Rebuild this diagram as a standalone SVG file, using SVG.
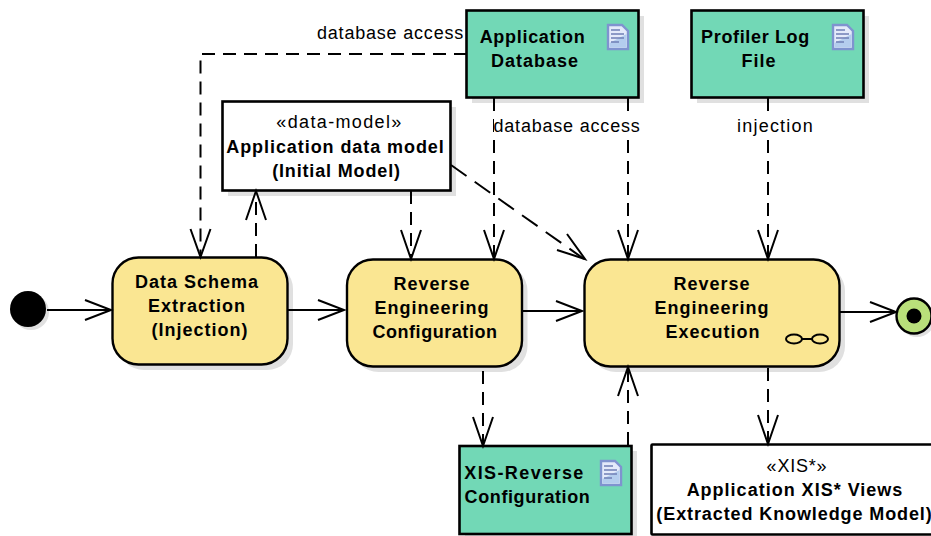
<svg xmlns="http://www.w3.org/2000/svg" width="931" height="536" viewBox="0 0 931 536">
<style>
text{font-family:"Liberation Sans",Arial,sans-serif;font-size:18px;fill:#000;text-anchor:middle}
.b{font-weight:bold;letter-spacing:1px}
.n{letter-spacing:.8px}
.s{fill:#e0e0e0}
.act{fill:#fae692;stroke:#000;stroke-width:2.4}
.art{fill:#72d8b6;stroke:#000;stroke-width:2.6}
.cls{fill:#fff;stroke:#000;stroke-width:2.6}
.c{fill:none;stroke:#000;stroke-width:2}
.d{stroke-dasharray:13 8}
.h{fill:none;stroke:#000;stroke-width:2}
.doc{fill:#e4eafa;stroke:#7f93cf;stroke-width:2.4}
.docl{fill:none;stroke:#6f7fb5;stroke-width:1.5}
</style>
<defs>
<g id="docicon">
<path class="doc" d="M1 1H15L21 7V25H1Z"/>
<path d="M2.500 19L19.500 10V23.500H2.500Z" fill="#b4cdee"/>
<path class="docl" d="M4 6H13M4 10H17M4 14H17M4 18H12"/>
</g>
</defs>
<g id="start"><circle cx="31" cy="312" r="18" class="s"/><circle cx="28" cy="309" r="18"/></g>
<g id="end"><circle cx="917" cy="319" r="18" class="s"/><circle cx="914" cy="316" r="17.500" fill="#b9e07a" stroke="#000" stroke-width="2.4"/><circle cx="914" cy="316" r="7.500"/></g>
<g id="app-db"><rect x="472" y="16" width="172" height="87" class="s"/><rect x="466.500" y="10.500" width="172" height="87" class="art"/>
<text class="b" x="532.500" y="43" style="letter-spacing:.7px">Application</text><text class="b" x="535" y="67">Database</text><use href="#docicon" x="607" y="24"/></g>
<g id="profiler"><rect x="697" y="16" width="172" height="87" class="s"/><rect x="691.500" y="10.500" width="172" height="87" class="art"/>
<text class="b" x="755.500" y="43" style="letter-spacing:.65px">Profiler Log</text><text class="b" x="759" y="67">File</text><use href="#docicon" x="832" y="24"/></g>
<g id="data-model"><rect x="228" y="107" width="228" height="89" class="s"/><rect x="222.500" y="101.500" width="228" height="89" class="cls"/>
<text x="339.500" y="128" style="letter-spacing:1.35px">«data-model»</text><text class="b" x="335.500" y="153" style="letter-spacing:.93px">Application data model</text><text class="b" x="336.500" y="177" style="letter-spacing:.85px">(Initial Model)</text></g>
<g id="extract"><rect x="118" y="263" width="175" height="107" rx="26" class="s"/><rect x="112.500" y="257.500" width="175" height="107" rx="26" class="act"/>
<text class="b" x="197" y="288">Data Schema</text><text class="b" x="197" y="312">Extraction</text><text class="b" x="200" y="336">(Injection)</text></g>
<g id="config"><rect x="352.500" y="265" width="175" height="107" rx="26" class="s"/><rect x="347" y="259.500" width="175" height="107" rx="26" class="act"/>
<text class="b" x="432" y="290">Reverse</text><text class="b" x="432" y="314">Engineering</text><text class="b" x="435" y="338" style="letter-spacing:.55px">Configuration</text></g>
<g id="exec"><rect x="590" y="265" width="255" height="107" rx="26" class="s"/><rect x="584.500" y="259.500" width="255" height="107" rx="26" class="act"/>
<text class="b" x="712" y="290">Reverse</text><text class="b" x="712" y="314">Engineering</text><text class="b" x="713" y="338">Execution</text>
<ellipse cx="794" cy="339" rx="8" ry="4.500" fill="none" stroke="#000" stroke-width="2"/><ellipse cx="820" cy="339" rx="8" ry="4.500" fill="none" stroke="#000" stroke-width="2"/><path d="M802 339H812" stroke="#000" stroke-width="2"/></g>
<g id="xis-config"><rect x="465" y="451" width="172" height="88" class="s"/><rect x="459.500" y="446" width="172" height="88" class="art"/>
<text class="b" x="524.500" y="479" style="letter-spacing:1.4px">XIS-Reverse</text><text class="b" x="527.500" y="503" style="letter-spacing:.6px">Configuration</text><use href="#docicon" x="600" y="460"/></g>
<g id="xis-views"><rect x="651.500" y="444.500" width="290" height="90" class="cls" rx="1"/>
<text x="797" y="472" class="n">«XIS*»</text><text class="b" x="795" y="496">Application XIS* Views</text><text class="b" x="794.500" y="520" style="letter-spacing:.9px">(Extracted Knowledge Model)</text></g>
<g id="connectors">
<path class="c" d="M47 310H110"/><path class="h" d="M85 300L111 310L85 320"/>
<path class="c" d="M288 310H344"/><path class="h" d="M318 300L344 310L318 320"/>
<path class="c" d="M522 311H582"/><path class="h" d="M556 301L582 311L556 321"/>
<path class="c" d="M840 312H896"/><path class="h" d="M870 302L896 312L870 322"/>
<path class="c d" d="M467 54H200.500V256"/><path class="h" d="M190.500 229L200.500 257L210.500 229"/>
<path class="c d" d="M256 257V192"/><path class="h" d="M246 220L256 191L266 220"/>
<path class="c d" d="M411 191V258"/><path class="h" d="M401 230L411 259L421 230"/>
<path class="c d" d="M494 98V259"/><path class="h" d="M484 230L494 259L504 230"/>
<path class="c d" d="M628 98V259"/><path class="h" d="M618 230L628 259L638 230"/>
<path class="c" style="stroke-dasharray:19 10" d="M451 165L584 259"/><path class="h" d="M557 250L585 259L567 234"/>
<path class="c d" d="M768 98V259"/><path class="h" d="M758 230L768 259L778 230"/>
<path class="c d" d="M483 371V445"/><path class="h" d="M473 417L483 446L493 417"/>
<path class="c d" d="M628 445V368"/><path class="h" d="M618 396L628 367L638 396"/>
<path class="c d" d="M768 368V443"/><path class="h" d="M758 415L768 444L778 415"/>
</g>
<g id="label-db1"><text x="390.500" y="39" class="n">database access</text></g>
<g id="label-db2"><rect x="494" y="116" width="146" height="21" fill="#fff"/><text x="567" y="132" class="n">database access</text></g>
<g id="label-inj"><rect x="736" y="116" width="78" height="21" fill="#fff"/><text x="775.500" y="132" style="letter-spacing:1.2px">injection</text></g>
</svg>
